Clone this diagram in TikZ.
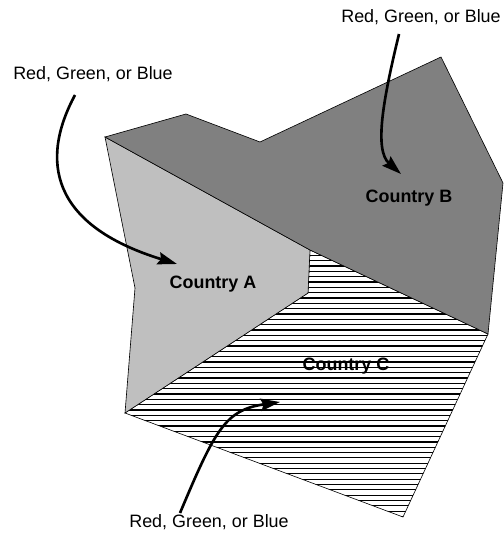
\documentclass[tikz,border=0pt]{standalone}
\usepackage{fontspec}
\setmainfont{Liberation Sans}
\usetikzlibrary{arrows.meta}
\tikzset{
  border/.style={draw=black, line width=.35pt, line join=miter},
  hatchline/.style={draw=black, line width=.7pt},
  pointer/.style={draw=black, line width=1.5pt, -{Stealth[length=11pt,width=7pt,inset=1.5pt]}},
  colorlabel/.style={font=\fontsize{10.2}{12}\selectfont, inner sep=0pt},
  countrylabel/.style={font=\fontsize{10.2}{12}\selectfont\bfseries, inner sep=0pt},
}
\begin{document}
\begin{tikzpicture}[x=.02cm, y=-.02cm]
        \useasboundingbox (0,0) rectangle (503,533);

        \coordinate (nw)    at (105,137);
        \coordinate (hill)  at (186,114);
        \coordinate (dip)   at (260,142);
        \coordinate (peak)  at (441,57);
        \coordinate (east)  at (503,183);
        \coordinate (se)    at (488,334);
        \coordinate (south) at (403,517);
        \coordinate (sw)    at (125,413);
        \coordinate (west)  at (135,288);
        \coordinate (in1)   at (310,250);
        \coordinate (in2)   at (308,293);

        % country C, hatched
        \begin{scope}
          \clip (sw) -- (in2) -- (in1) -- (se) -- (south) -- cycle;
          \foreach \y in {250,255.33,...,520} {
            \draw[hatchline] (100,\y) -- (500,\y);
          }
        \end{scope}
        \draw[border] (sw) -- (in2) -- (in1) -- (se) -- (south) -- cycle;

        % country A and B
        \draw[border, fill=black!25] (nw) -- (in1) -- (in2) -- (sw) -- (west) -- cycle;
        \draw[border, fill=black!50] (nw) -- (hill) -- (dip) -- (peak) -- (east) -- (se) -- (in1) -- cycle;

        \node[countrylabel] (a) at (213,284) {Country A};
        \node[countrylabel] (b) at (409,198) {Country B};
        \node[countrylabel] (c) at (346,366) {Country C};

        \node[colorlabel] (redA) at (93,74)   {Red, Green, or Blue};
        \node[colorlabel] (redB) at (421,17)  {Red, Green, or Blue};
        \node[colorlabel] (redC) at (209,522) {Red, Green, or Blue};

        \coordinate (startA) at (75,95);
        \coordinate (tipA)   at (177,264);
        \coordinate (startB) at (399,34);
        \coordinate (tipB)   at (401,174);
        \coordinate (startC) at (180,513);
        \coordinate (tipC)   at (280,402);

        \draw[pointer] (startA) .. controls (40,160) and (50,225) .. (tipA);
        \draw[pointer] (startB) .. controls (383,100) and (374,150) .. (tipB);
        \draw[pointer] (startC) .. controls (215,430) and (225,410) .. (tipC);

      \end{tikzpicture}
\end{document}
